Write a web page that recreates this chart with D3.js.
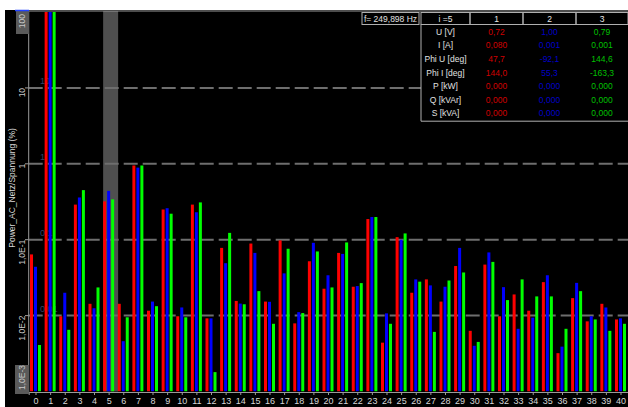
<!DOCTYPE html>
<html>
<head>
<meta charset="utf-8">
<script src="https://cdn.jsdelivr.net/npm/d3@7"></script>
<style>
  body { margin: 0; background: #fff; }
  #chart { width: 628px; height: 407px; }
</style>
</head>
<body>
<div id="chart"></div>
<script>
// Harmonic orders 0..40
var harmonics = d3.range(0, 41);

// Harmonic amplitudes in % per phase
var phase1 = [0.064, 100, 0.0098, 0.29, 0.0143, 0.32, 0.0143, 0.95, 0.0116, 0.25,
  0.0098, 0.29, 0.0092, 0.078, 0.0156, 0.089, 0.0153, 0.098, 0.0079, 0.052,
  0.0226, 0.067, 0.024, 0.187, 0.0044, 0.108, 0.020, 0.030, 0.0153, 0.045,
  0.0063, 0.047, 0.0098, 0.019, 0.0116, 0.0276, 0.0032, 0.017, 0.0084, 0.0143, 0.0089];
var phase2 = [0.044, 100, 0.020, 0.36, 0.0125, 0.44, 0.0046, 0.89, 0.0153, 0.26,
  0.0128, 0.23, 0.0092, 0.049, 0.0144, 0.067, 0.0152, 0.036, 0.0111, 0.091,
  0.034, 0.065, 0.0245, 0.199, 0.0107, 0.100, 0.030, 0.025, 0.024, 0.078,
  0.0040, 0.068, 0.0237, 0.0067, 0.0094, 0.034, 0.0039, 0.027, 0.0098, 0.0128, 0.0092];
var phase3 = [0.0041, 100, 0.0065, 0.45, 0.0235, 0.34, 0.0095, 0.95, 0.0133, 0.22,
  0.0095, 0.31, 0.0018, 0.123, 0.0141, 0.021, 0.0078, 0.076, 0.0108, 0.070,
  0.0235, 0.092, 0.0268, 0.199, 0.0078, 0.121, 0.028, 0.0061, 0.029, 0.037,
  0.0045, 0.051, 0.016, 0.030, 0.0179, 0.0179, 0.0067, 0.021, 0.0089, 0.0063, 0.0078];

var phases = ["1", "2", "3"];
var phaseColors = ["#ff0000", "#0000ff", "#00ff00"];
var selected = 5;

// y axis ticks
var yTicks = [1e-3, 1e-2, 1e-1, 1, 10, 100];
var yTickLabels = ["1,0E-3", "1,0E-2", "1,0E-1", "1", "10", "100"];
var innerLabels = ["0,01", "0,1", "1", "10"];

// info table
var freqLabel = "f= 249,898 Hz";
var tableHeader = ["i =5", "1", "2", "3"];
var rowNames = ["U [V]", "I [A]", "Phi U [deg]", "Phi I [deg]", "P [kW]", "Q [kVAr]", "S [kVA]"];
var col1 = ["0,72", "0,080", "47,7", "144,0", "0,000", "0,000", "0,000"];
var col2 = ["1,00", "0,001", "-92,1", "55,3", "0,000", "0,000", "0,000"];
var col3 = ["0,79", "0,001", "144,6", "-163,3", "0,000", "0,000", "0,000"];
var textColors = ["#d00000", "#0000c8", "#00c000"];

var font = "'Liberation Sans', Arial, sans-serif";

var svg = d3.select('#chart')
  .append('svg')
    .attr('width', 628)
    .attr('height', 407);

// Graph information
var margin = {top: 11, right: 0, bottom: 15.5, left: 28.7};
var width = 628, height = 407;

// black panel
svg.append("rect")
  .attr("x", 5).attr("y", 10)
  .attr("width", width - 5).attr("height", height - 10)
  .attr("fill", "#000");

// Scales
var x = d3.scaleBand()
  .domain(harmonics)
  .range([margin.left, 628.3]);
var xSub = d3.scaleBand()
  .domain(phases)
  .range([-6, 6]);
var y = d3.scaleLog()
  .domain([1e-3, 100])
  .range([391.5, 12]);

var clip = svg.append("clipPath").attr("id", "plot-clip")
  .append("rect")
    .attr("x", margin.left).attr("y", margin.top)
    .attr("width", width - margin.left).attr("height", 391.5 - margin.top);

// highlight of the selected harmonic
svg.append("rect")
  .attr("x", x(selected) + x.bandwidth() / 2 - 6)
  .attr("y", margin.top)
  .attr("width", 15)
  .attr("height", 391.5 - margin.top)
  .attr("fill", "#4f4f4f");

// Gridlines
svg.append("g")
  .selectAll("line")
  .data(yTicks.slice(1, 5))
  .join("line")
    .attr("x1", margin.left).attr("x2", width)
    .attr("y1", d => y(d)).attr("y2", d => y(d))
    .attr("stroke", "#6e6e6e")
    .attr("stroke-width", 2)
    .attr("stroke-dasharray", "14,5");

// faint labels inside the plot
svg.append("g")
  .selectAll("text")
  .data(innerLabels)
  .join("text")
    .attr("x", 40)
    .attr("y", (d, i) => y(yTicks[i + 1]) - 4)
    .attr("fill", "#34446a")
    .style("font-family", font)
    .style("font-size", "9px")
    .text(d => d);

// Bars
var series = [phase1, phase2, phase3];
var bars = svg.append("g").attr("clip-path", "url(#plot-clip)");
series.forEach(function(values, p) {
  bars.append("g")
    .selectAll("rect")
    .data(harmonics)
    .join("rect")
      .attr("x", d => x(d) + x.bandwidth() / 2 + xSub(phases[p]))
      .attr("y", d => y(values[d]))
      .attr("width", xSub.bandwidth() - 1)
      .attr("height", d => 391.5 - y(values[d]))
      .attr("fill", phaseColors[p]);
});

// Frame
svg.append("path")
  .attr("d", `M${margin.left},392 V${margin.top} H${width}`)
  .attr("fill", "none")
  .attr("stroke", "#9a9a9a")
  .attr("stroke-width", 1);

// X axis
var xAxis = svg.append("g")
  .attr("transform", "translate(0,392)")
  .call(d3.axisBottom(x).tickSize(3).tickPadding(3));
xAxis.select(".domain").attr("stroke", "#9a9a9a");
xAxis.selectAll(".tick line").attr("stroke", "#9a9a9a");
xAxis.selectAll("text")
  .attr("fill", "#d8d8d8")
  .style("font-family", font)
  .style("font-size", "9px");

// Y axis labels
svg.append("rect").attr("x", 16).attr("y", 11).attr("width", 13).attr("height", 23).attr("fill", "#5a5a5a");
svg.append("rect").attr("x", 15).attr("y", 365).attr("width", 14).attr("height", 29).attr("fill", "#5a5a5a");
svg.append("line").attr("x1", 15).attr("x2", 29).attr("y1", 10.5).attr("y2", 10.5).attr("stroke", "#2040ff").attr("stroke-width", 1.5);

svg.append("g")
  .selectAll("line")
  .data(yTicks.slice(1, 5))
  .join("line")
    .attr("x1", 25).attr("x2", margin.left)
    .attr("y1", d => y(d)).attr("y2", d => y(d))
    .attr("stroke", "#9a9a9a");

svg.append("g")
  .selectAll("text")
  .data(yTicks)
  .join("text")
    .attr("transform", (d, i) => {
      var ty = i === 0 ? 392 : (i === 5 ? 13 : y(d));
      return `translate(25,${ty}) rotate(-90)`;
    })
    .attr("text-anchor", (d, i) => i === 5 ? "end" : (i === 0 ? "start" : "end"))
    .attr("dx", (d, i) => i === 0 ? 2 : (i === 5 ? -1 : 0))
    .attr("fill", "#c8c8c8")
    .style("font-family", font)
    .style("font-size", "8.5px")
    .text((d, i) => yTickLabels[i]);

// y title
svg.append("text")
  .attr("transform", "translate(15,188) rotate(-90)")
  .attr("text-anchor", "middle")
  .attr("fill", "#d8d8d8")
  .style("font-family", font)
  .style("font-size", "8.5px")
  .text("Power_AC_Netz/Spannung (%)");

// Info table
var colX = [421, 470, 523, 576, 628];
var rowTop = 24.5, rowH = 13.6;
var table = svg.append("g");

table.append("rect")
  .attr("x", colX[0]).attr("y", 12.5)
  .attr("width", colX[4] - colX[0]).attr("height", rowTop + rowH * 7 - 12.5 + 1.5)
  .attr("fill", "#000");

// frequency box
table.append("rect")
  .attr("x", 362).attr("y", 12.5).attr("width", 57).attr("height", 12)
  .attr("fill", "#000").attr("stroke", "#b0b0b0");
table.append("text")
  .attr("x", 390.5).attr("y", 21.8)
  .attr("text-anchor", "middle")
  .attr("fill", "#e0e0e0")
  .style("font-family", font).style("font-size", "8.5px")
  .text(freqLabel);

// header cells
table.selectAll(".hcell")
  .data(tableHeader)
  .join("rect")
    .attr("class", "hcell")
    .attr("x", (d, i) => colX[i]).attr("y", 12.5)
    .attr("width", (d, i) => colX[i + 1] - colX[i]).attr("height", 12)
    .attr("fill", "none").attr("stroke", "#b0b0b0");
table.selectAll(".htext")
  .data(tableHeader)
  .join("text")
    .attr("class", "htext")
    .attr("x", (d, i) => (colX[i] + colX[i + 1]) / 2).attr("y", 21.8)
    .attr("text-anchor", "middle")
    .attr("fill", "#e8e8e8")
    .style("font-family", font).style("font-size", "8.5px")
    .text(d => d);

// body border
table.append("path")
  .attr("d", `M${colX[0]},24.5 V${rowTop + rowH * 7 + 1.5} H${colX[4]}`)
  .attr("fill", "none").attr("stroke", "#b0b0b0");

table.selectAll(".rname")
  .data(rowNames)
  .join("text")
    .attr("class", "rname")
    .attr("x", (colX[0] + colX[1]) / 2)
    .attr("y", (d, i) => rowTop + rowH * i + 10.3)
    .attr("text-anchor", "middle")
    .attr("fill", "#e0e0e0")
    .style("font-family", font).style("font-size", "8.5px")
    .text(d => d);

[col1, col2, col3].forEach(function(col, c) {
  table.append("g")
    .selectAll("text")
    .data(col)
    .join("text")
      .attr("x", (colX[c + 1] + colX[c + 2]) / 2)
      .attr("y", (d, i) => rowTop + rowH * i + 10.3)
      .attr("text-anchor", "middle")
      .attr("fill", textColors[c])
      .style("font-family", font).style("font-size", "8.5px")
      .text(d => d);
});
</script>
</body>
</html>
